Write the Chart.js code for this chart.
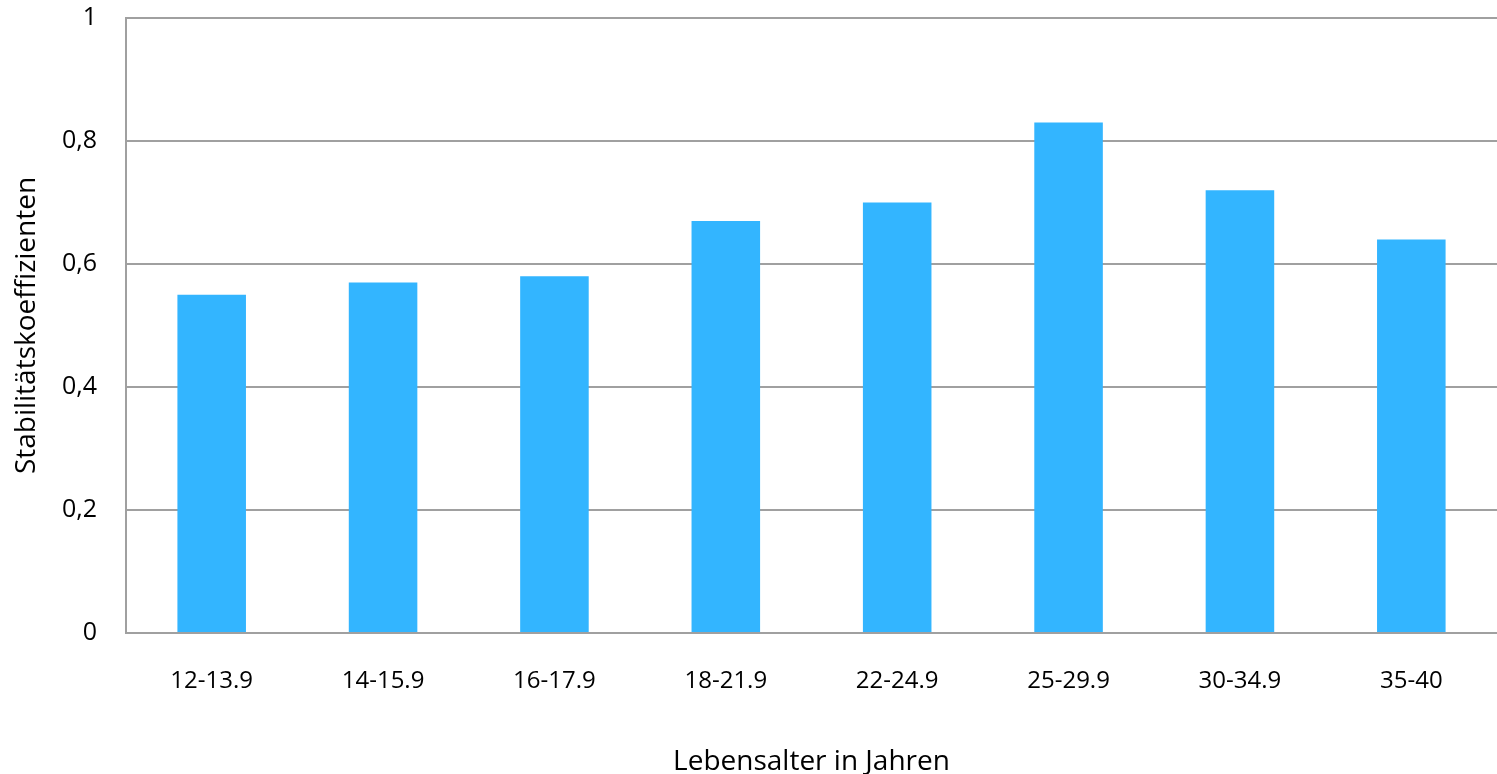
<!DOCTYPE html>
<html>
<head>
<meta charset="utf-8">
<script src="https://cdn.jsdelivr.net/npm/chart.js@4"></script>
<style>
  html, body { margin: 0; padding: 0; background: #ffffff; }
  #wrap { width: 1497px; height: 774px; }
</style>
</head>
<body>
<div id="wrap"><canvas id="c"></canvas></div>
<script>
// Altersgruppen und Stabilitätskoeffizienten
const categories = ['12-13.9', '14-15.9', '16-17.9', '18-21.9', '22-24.9', '25-29.9', '30-34.9', '35-40'];
const stabilityValues = [0.55, 0.57, 0.58, 0.67, 0.70, 0.83, 0.72, 0.64];
const yTicks = [0, 0.2, 0.4, 0.6, 0.8, 1];
const xTitle = 'Lebensalter in Jahren';
const yTitle = 'Stabilitätskoeffizienten';

const FONT = "'Open Sans', Lato, sans-serif";

new Chart(document.getElementById('c'), {
  type: 'bar',
  data: {
    labels: categories,
    datasets: [{
      data: stabilityValues,
      backgroundColor: '#33b5ff',
      borderWidth: 0,
      categoryPercentage: 0.8,
      barPercentage: 0.5
    }]
  },
  options: {
    responsive: true,
    maintainAspectRatio: false,
    animation: false,
    layout: { padding: { top: 18, right: 0, bottom: 0, left: 0 } },
    plugins: { legend: { display: false }, tooltip: { enabled: false } },
    scales: {
      x: {
        grid: { display: false, drawTicks: false },
        border: { display: true, color: '#a0a0a0', width: 2 },
        ticks: {
          color: '#000000',
          font: { family: FONT, size: 24 },
          padding: 34,
          maxRotation: 0
        },
        title: {
          display: true,
          text: xTitle,
          color: '#000000',
          font: { family: FONT, size: 28 },
          padding: { top: 34, bottom: -5 }
        },
        afterFit: (s) => {
          s.height = 141;
          s.paddingLeft = 0;
          s.paddingRight = 0;
        }
      },
      y: {
        min: 0,
        max: 1,
        afterBuildTicks: (s) => { s.ticks = yTicks.map(v => ({ value: v })); },
        grid: { color: '#a0a0a0', lineWidth: 2, drawTicks: false },
        border: { display: true, color: '#a0a0a0', width: 2 },
        ticks: {
          color: '#000000',
          font: { family: FONT, size: 25 },
          padding: 29,
          callback: (v) => String(v).replace('.', ',')
        },
        title: {
          display: true,
          text: yTitle,
          color: '#000000',
          font: { family: FONT, size: 28 },
          padding: { top: 10, bottom: 0 }
        },
        afterFit: (s) => {
          s.width = 126;
          s.paddingTop = 0;
          s.paddingBottom = 0;
        }
      }
    }
  }
});
</script>
</body>
</html>
